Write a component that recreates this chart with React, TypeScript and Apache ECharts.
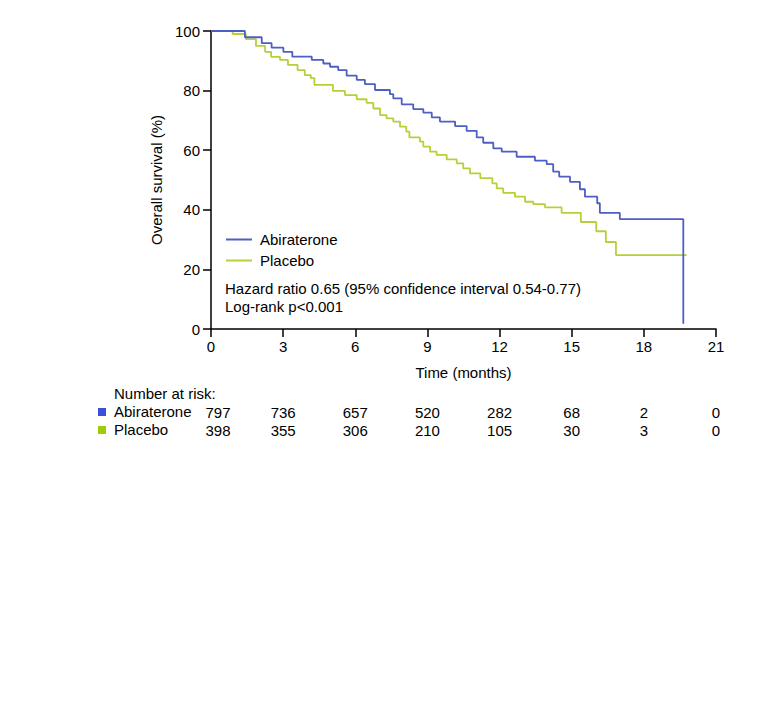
import React, { useEffect, useRef } from "react";
import * as echarts from "echarts";

const FONT = '"Liberation Sans", Arial, Helvetica, sans-serif';

const abirateroneCurve: [number, number][] = [
  [0, 100], [1.41, 97.9], [2.11, 95.9], [2.52, 94.4], [3.01, 93.0], [3.38, 91.4],
  [4.19, 90.3], [4.67, 89.1], [4.95, 88.0], [5.29, 86.9], [5.64, 85.0], [6.06, 83.6],
  [6.4, 82.2], [6.82, 80.2], [7.44, 78.8], [7.58, 77.4], [7.93, 75.4], [8.41, 73.8],
  [8.83, 72.6], [9.18, 71.0], [9.52, 69.6], [10.15, 68.1], [10.63, 66.5], [11.05, 64.3],
  [11.32, 62.5], [11.74, 60.6], [12.09, 59.5], [12.71, 57.8], [13.47, 56.5], [13.96, 55.3],
  [14.23, 52.8], [14.48, 51.1], [14.93, 49.4], [15.34, 46.9], [15.55, 44.4], [16.06, 42.2],
  [16.17, 39.0], [17.0, 36.9], [19.64, 36.9], [19.64, 1.8],
];

const placeboCurve: [number, number][] = [
  [0, 100], [0.9, 99.0], [1.45, 97.3], [1.87, 95.0], [2.25, 93.0], [2.5, 91.3],
  [2.87, 90.3], [3.2, 88.6], [3.6, 86.9], [3.9, 85.2], [4.15, 84.2], [4.3, 81.9],
  [5.07, 79.9], [5.57, 78.5], [6.06, 77.1], [6.47, 75.9], [6.75, 74.0], [7.03, 71.8],
  [7.3, 70.7], [7.58, 69.6], [7.86, 67.9], [8.12, 66.2], [8.25, 64.3], [8.69, 62.9],
  [8.83, 61.2], [9.11, 59.5], [9.38, 58.4], [9.8, 56.9], [10.22, 55.6], [10.49, 53.9],
  [10.77, 52.2], [11.2, 50.6], [11.7, 48.9], [11.88, 47.2], [12.15, 45.7], [12.64, 44.4],
  [13.06, 42.7], [13.4, 41.9], [13.89, 40.8], [14.58, 39.0], [15.38, 35.9], [16.02, 32.8],
  [16.42, 29.2], [16.84, 24.8], [19.78, 24.8],
];

const riskTimes = [0, 3, 6, 9, 12, 15, 18, 21];
const abirateroneAtRisk = [797, 736, 657, 520, 282, 68, 2, 0];
const placeboAtRisk = [398, 355, 306, 210, 105, 30, 3, 0];

const BLUE = "#4d5ec4";
const GREEN = "#b5d13a";
const BLUE_SQ = "#3b50d4";
const GREEN_SQ = "#9ccc0a";
const FS = 15;

export default function App() {
  const ref = useRef<HTMLDivElement>(null);
  useEffect(() => {
    if (!ref.current) return;
    const chart = echarts.init(ref.current, undefined, { renderer: "svg" });
    const riskAxis = (counts: number[], offset: number) => ({
      type: "value",
      gridIndex: 0,
      position: "bottom",
      offset,
      min: 0,
      max: 21,
      interval: 3,
      axisLine: { show: false },
      axisTick: { show: false },
      splitLine: { show: false },
      axisLabel: {
        color: "#000",
        fontSize: FS,
        fontFamily: FONT,
        margin: 10,
        formatter: (v: number) => {
          const i = riskTimes.indexOf(Math.round(v));
          if (i < 0) return "";
          return i === 0 ? `{first|${counts[i]}}` : String(counts[i]);
        },
        rich: {
          first: { fontSize: FS, fontFamily: FONT, color: "#000", padding: [0, 0, 0, 14] },
        },
      },
    });
    chart.setOption({
      animation: false,
      textStyle: { fontFamily: FONT },
      grid: { left: 203, right: 61, top: 23, bottom: 397, containLabel: false },
      xAxis: [
        {
          type: "value",
          min: 0,
          max: 21,
          interval: 3,
          name: "Time (months)",
          nameLocation: "middle",
          nameGap: 36,
          nameTextStyle: { color: "#000", fontSize: FS, fontFamily: FONT },
          axisLine: { lineStyle: { color: "#000", width: 1.5 } },
          axisTick: { show: true, inside: false, length: 8, lineStyle: { color: "#000", width: 1.5 } },
          axisLabel: { color: "#000", fontSize: FS, fontFamily: FONT, margin: 10 },
          splitLine: { show: false },
        },
        riskAxis(abirateroneAtRisk, 66),
        riskAxis(placeboAtRisk, 84),
      ],
      yAxis: {
        type: "value",
        min: 0,
        max: 100,
        interval: 20,
        name: "Overall survival (%)",
        nameLocation: "middle",
        nameGap: 35,
        nameTextStyle: { color: "#000", fontSize: FS, fontFamily: FONT },
        axisLine: { show: true, lineStyle: { color: "#000", width: 1.5 } },
        axisTick: { show: true, inside: false, length: 8, lineStyle: { color: "#000", width: 1.5 } },
        axisLabel: { color: "#000", fontSize: FS, fontFamily: FONT, margin: 11 },
        splitLine: { show: false },
      },
      legend: {
        orient: "vertical",
        left: 213,
        top: 218,
        itemWidth: 26,
        itemHeight: 2,
        itemGap: 4,
        icon: "rect",
        textStyle: { color: "#000", fontSize: FS, fontFamily: FONT, lineHeight: 17, padding: [0, 0, 0, 3] },
        data: ["Abiraterone", "Placebo"],
      },
      series: [
        {
          name: "Abiraterone",
          type: "line",
          step: "end",
          showSymbol: false,
          data: abirateroneCurve,
          lineStyle: { color: BLUE, width: 1.8 },
          itemStyle: { color: BLUE },
          z: 3,
        },
        {
          name: "Placebo",
          type: "line",
          step: "end",
          showSymbol: false,
          data: placeboCurve,
          lineStyle: { color: GREEN, width: 1.8 },
          itemStyle: { color: GREEN },
          z: 2,
        },
      ],
      graphic: [
        {
          type: "text",
          left: 217,
          top: 273,
          style: { text: "Hazard ratio 0.65 (95% confidence interval 0.54-0.77)", fill: "#000", font: `${FS}px ${FONT}` },
        },
        {
          type: "text",
          left: 217,
          top: 291,
          style: { text: "Log-rank p<0.001", fill: "#000", font: `${FS}px ${FONT}` },
        },
        {
          type: "text",
          left: 106,
          top: 378,
          style: { text: "Number at risk:", fill: "#000", font: `${FS}px ${FONT}` },
        },
        { type: "rect", left: 90, top: 400, shape: { width: 8, height: 8 }, style: { fill: BLUE_SQ } },
        {
          type: "text",
          left: 106,
          top: 396,
          style: { text: "Abiraterone", fill: "#000", font: `${FS}px ${FONT}` },
        },
        { type: "rect", left: 90, top: 418, shape: { width: 8, height: 8 }, style: { fill: GREEN_SQ } },
        {
          type: "text",
          left: 106,
          top: 414,
          style: { text: "Placebo", fill: "#000", font: `${FS}px ${FONT}` },
        },
      ],
    });
    return () => chart.dispose();
  }, []);
  return <div ref={ref} style={{ width: 769, height: 718 }} />;
}
